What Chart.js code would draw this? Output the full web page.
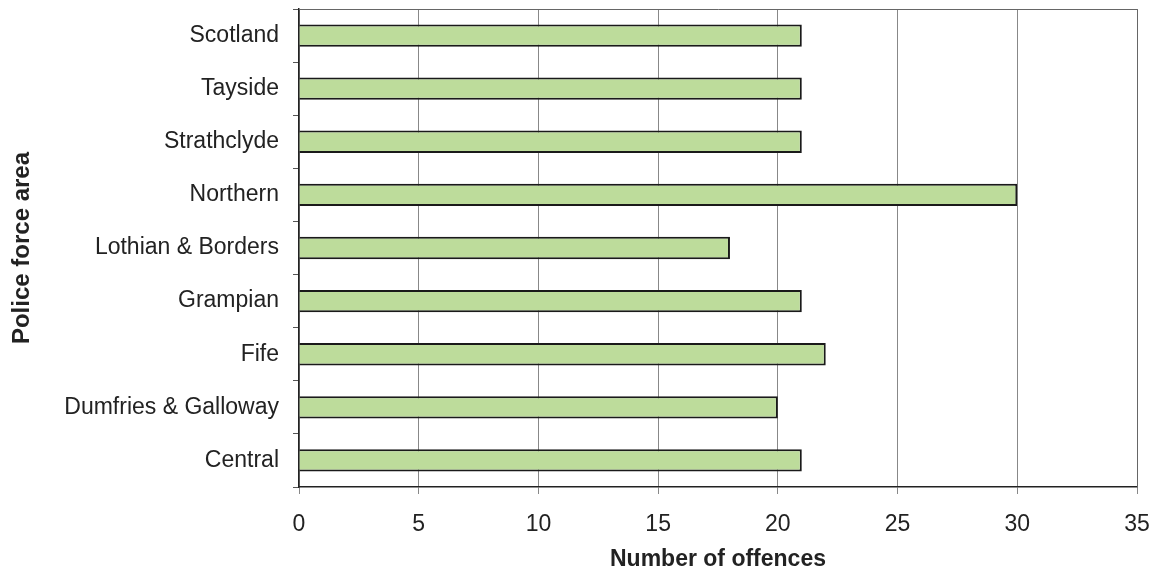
<!DOCTYPE html>
<html>
<head>
<meta charset="utf-8">
<script src="https://cdn.jsdelivr.net/npm/chart.js@4"></script>
<style>
  html, body { margin: 0; padding: 0; background: #fff; }
  #wrap { width: 1153px; height: 571px; }
</style>
</head>
<body>
<div id="wrap"><canvas id="offencesChart" width="1153" height="571"></canvas></div>
<script>
const areas = ['Scotland', 'Tayside', 'Strathclyde', 'Northern', 'Lothian & Borders', 'Grampian', 'Fife', 'Dumfries & Galloway', 'Central'];
const offences = [21, 21, 21, 30, 18, 21, 22, 20, 21];
const xTicks = [0, 5, 10, 15, 20, 25, 30, 35];

const FONT = '"Liberation Sans", Arial, sans-serif';

// top and right edges of the plot box
const plotFrame = {
    id: 'plotFrame',
    afterDraw(chart) {
        const { ctx, chartArea: a } = chart;
        ctx.save();
        ctx.strokeStyle = '#666';
        ctx.lineWidth = 1;
        ctx.beginPath();
        ctx.moveTo(a.left, a.top + 0.5);
        ctx.lineTo(a.right + 0.5, a.top + 0.5);
        ctx.lineTo(a.right + 0.5, a.bottom);
        ctx.stroke();
        ctx.restore();
    }
};

new Chart(document.getElementById('offencesChart'), {
    type: 'bar',
    data: {
        labels: areas,
        datasets: [{
            data: offences,
            backgroundColor: '#bddc9b',
            borderColor: '#1a1a1a',
            borderWidth: 2,
            barPercentage: 0.42,
            categoryPercentage: 1
        }]
    },
    options: {
        indexAxis: 'y',
        responsive: false,
        animation: false,
        layout: { padding: { top: 9, right: 16, left: 8, bottom: 0 } },
        plugins: {
            legend: { display: false },
            tooltip: { enabled: false }
        },
        scales: {
            x: {
                min: 0,
                max: 35,
                afterBuildTicks: s => { s.ticks = xTicks.map(v => ({ value: v })); },
                grid: { color: '#888', lineWidth: 1, tickLength: 7 },
                border: { color: '#222', width: 1.5 },
                ticks: { color: '#222', font: { family: FONT, size: 23 }, padding: 17 },
                title: {
                    display: true,
                    text: 'Number of offences',
                    color: '#222',
                    font: { family: FONT, size: 23, weight: 'bold' },
                    padding: { top: 8, bottom: -2 }
                },
                afterFit: s => { s.height = 84; s.paddingLeft = 0; s.paddingRight = 0; }
            },
            y: {
                offset: true,
                grid: { offset: true, drawOnChartArea: false, tickLength: 6, color: '#555' },
                border: { color: '#222', width: 1.5 },
                ticks: { color: '#222', font: { family: FONT, size: 23 }, padding: 14 },
                title: {
                    display: true,
                    text: 'Police force area',
                    color: '#222',
                    font: { family: FONT, size: 24, weight: 'bold' },
                    padding: { top: 0, bottom: 14 }
                },
                afterFit: s => { s.width = 291; s.paddingTop = 0; s.paddingBottom = 0; }
            }
        }
    },
    plugins: [plotFrame]
});
</script>
</body>
</html>
